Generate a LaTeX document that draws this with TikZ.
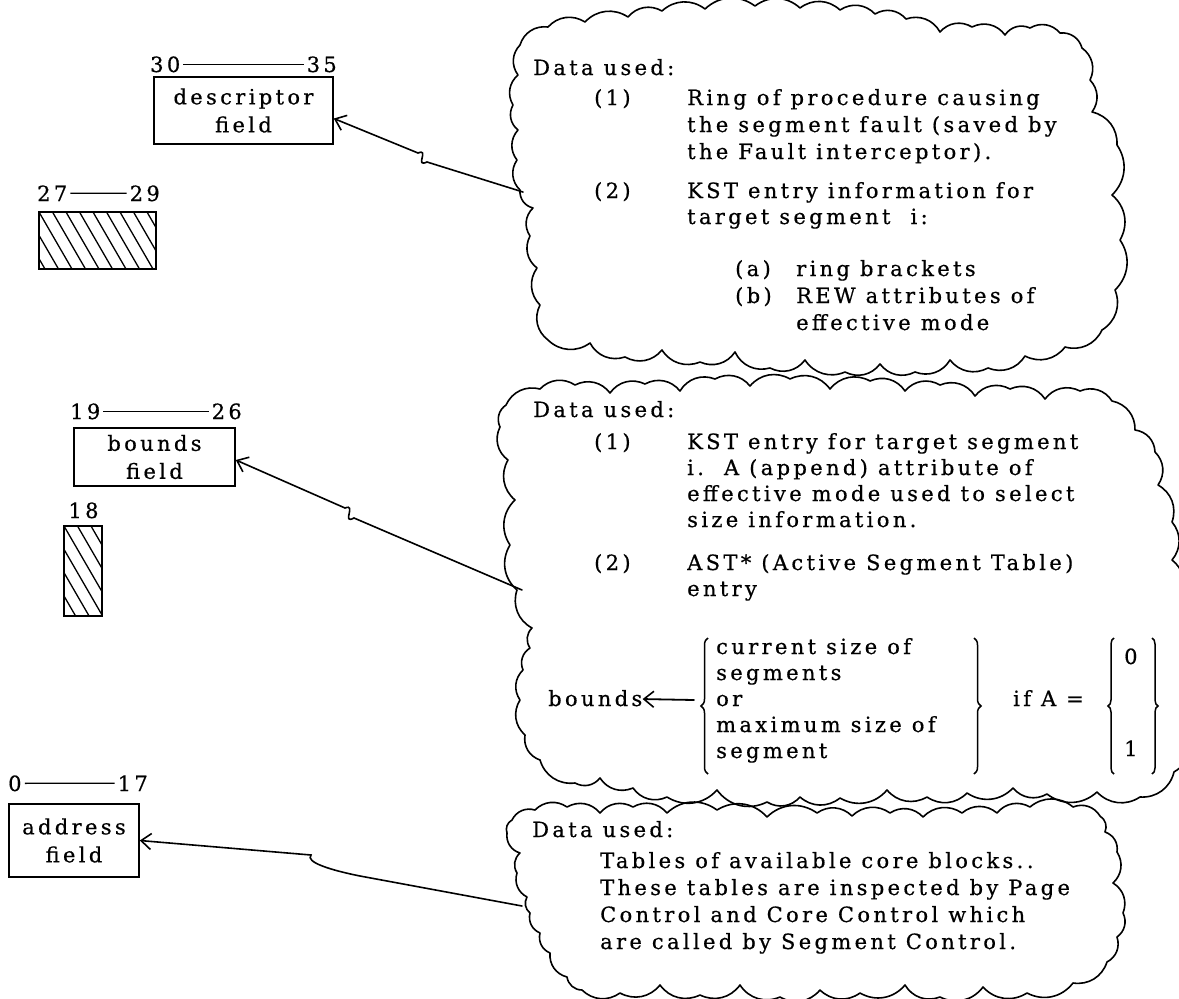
\documentclass[tikz,border=0pt]{standalone}
\usepackage{fontspec}
\setmainfont{DejaVu Serif}[LetterSpace=16, FakeBold=0.6]
\usetikzlibrary{arrows.meta}
\usetikzlibrary{calc}
\usetikzlibrary{decorations.pathreplacing}

\tikzset{
  txt/.style={anchor=base west, inner sep=0pt, font=\fontsize{21}{28}\selectfont},
  field/.style={draw, line width=1.6pt, align=center, inner sep=0pt, font=\fontsize{21}{28}\selectfont},
  bits/.style={inner sep=3pt, font=\fontsize{21}{22}\selectfont},
  hatch/.style={draw, line width=1.6pt, inner sep=0pt,
    path picture={
      \foreach \i in {-8,...,10}
        \draw[line width=1.3pt] ([xshift=\i*13.5pt]path picture bounding box.north west) -- ++(66,-114);
    }},
  cloudline/.style={line width=1.6pt, line join=round, every to/.style={bend left=40}},
  link/.style={line width=1.6pt, line cap=round, -{Straight Barb[length=10pt,width=16pt,line width=1.6pt]}},
  brc/.style={line width=1.5pt, decorate, decoration={brace, amplitude=7pt}},
}

\begin{document}
\begin{tikzpicture}[x=1pt, y=1pt]
\useasboundingbox (0,0) rectangle (1179,-999);

% fields of the word
\node[field, minimum width=179pt, minimum height=67pt] (desc) at (243.5,-110.5) {descriptor\\field};
\node[field, minimum width=161pt, minimum height=58pt] (bnds) at (154.5,-457) {bounds\\field};
\node[field, minimum width=130pt, minimum height=73pt] (addr) at (74,-840.5) {address\\field};
\node[hatch, minimum width=117pt, minimum height=57pt] (f27) at (97.5,-240.5) {};
\node[hatch, minimum width=38pt, minimum height=90pt] (f18) at (83,-571) {};

% bit positions
\node[bits, anchor=base west] (b30) at (147,-72) {30};
\node[bits, anchor=base east] (b35) at (340,-72) {35};
\node[bits, anchor=base west] (b27) at (34,-201) {27};
\node[bits, anchor=base east] (b29) at (163,-201) {29};
\node[bits, anchor=base west] (b19) at (67,-419) {19};
\node[bits, anchor=base east] (b26) at (245,-419) {26};
\node[bits, anchor=base] (b18) at (83.5,-518) {18};
\node[bits, anchor=base west] (b0) at (5,-791) {0};
\node[bits, anchor=base east] (b17) at (151,-791) {17};
\foreach \a/\b in {b30/b35, b27/b29, b19/b26, b0/b17}
  \draw[line width=1.3pt] (\a) -- (\b);

% cloud 1
\draw[cloudline] (520,-45) to (548,-27) to (585,-22) to (628,-17) to (662,-11) to (705,-9)
  to (755,-6) to (800,-8) to (840,-10) to (875,-14) to (906,-19) to (940,-32) to (972,-27)
  to (1005,-35) to (1030,-28) to (1060,-33)
  to (1082,-48) to (1090,-80) to (1092,-112) to (1117,-145) to (1112,-195) to (1120,-240)
  to (1115,-290) to (1102,-330)
  to (1065,-347) to (1025,-356) to (988,-368) to (950,-360) to (915,-372) to (880,-364)
  to (845,-372) to (805,-360) to (770,-368) to (735,-352) to (700,-362) to (662,-350)
  to (625,-357) to (590,-343) to (548,-340)
  to (540,-305) to (537,-268) to (530,-236) to (533,-208) to (520,-190) to (517,-160)
  to (518,-130) to (513,-105) to (518,-75) to (520,-45);
\node[txt] (du1) at (533,-75) {Data used:};
\node[txt] (n11) at (594,-105) {(1)};
\foreach \s/\y [count=\i] in {{Ring of procedure causing}/105, {the segment fault (saved by}/132,
    {the Fault interceptor).}/159}
  \node[txt] (p11-\i) at (687,-\y) {\s};
\node[txt] (n12) at (594,-198) {(2)};
\foreach \s/\y [count=\i] in {{KST entry information for}/198, {target segment\ \ i:}/224}
  \node[txt] (p12-\i) at (687,-\y) {\s};
\node[txt] (na) at (735,-276) {(a)};
\node[txt] (nb) at (735,-303) {(b)};
\foreach \s/\y [count=\i] in {{ring brackets}/276, {REW attributes of}/303, {effective mode}/330}
  \node[txt] (pab-\i) at (796,-\y) {\s};

% cloud 2
\draw[cloudline] (506,-405) to (540,-389) to (575,-385) to (610,-393) to (645,-384) to (680,-391)
  to (715,-379) to (750,-386) to (790,-379) to (830,-389) to (870,-381) to (905,-391)
  to (940,-385) to (975,-396) to (1010,-389) to (1045,-399) to (1080,-391) to (1112,-401)
  to (1135,-430) to (1155,-452) to (1158,-485) to (1172,-522) to (1172,-560) to (1180,-595)
  to (1192,-650) to (1192,-720) to (1174,-772)
  to (1140,-797) to (1097,-792) to (1047,-794) to (1013,-788) to (967,-793) to (927,-797)
  to (887,-790) to (840,-798) to (800,-797) to (767,-802) to (717,-790) to (667,-797)
  to (633,-788) to (600,-778) to (575,-783) to (540,-760)
  to (525,-735) to (520,-700) to (523,-670) to (530,-648) to (532,-628) to (517,-590)
  to (510,-545) to (515,-500) to (508,-460) to (500,-427) to (506,-405);
\node[txt] (du2) at (533,-417) {Data used:};
\node[txt] (n21) at (594,-449) {(1)};
\foreach \s/\y [count=\i] in {{KST entry for target segment}/449, {i.\ \ A (append) attribute of}/475,
    {effective mode used to select}/501, {size information.}/527}
  \node[txt] (p21-\i) at (687,-\y) {\s};
\node[txt] (n22) at (594,-570) {(2)};
\foreach \s/\y [count=\i] in {{AST* (Active Segment Table)}/570, {entry}/596}
  \node[txt] (p22-\i) at (687,-\y) {\s};
\node[txt] (bds) at (548,-706) {bounds};
\coordinate (brtip) at (694,-700);
\draw[link, line width=1.8pt] (brtip) -- (bds);
\draw[brc] (708,-774) -- (708,-638);
\foreach \s/\y [count=\i] in {{current size of}/654, {segments}/680, {or}/706,
    {maximum size of}/732, {segment}/758}
  \node[txt] (sz-\i) at (716,-\y) {\s};
\draw[brc] (974,-638) -- (974,-774);
\node[txt] (ifa) at (1013,-706) {if A =};
\draw[brc, decoration={amplitude=6pt}] (1114,-774) -- (1114,-638);
\node[txt] (v0) at (1124,-664) {0};
\node[txt] (v1) at (1124,-756) {1};
\draw[brc, decoration={amplitude=6pt}] (1152,-638) -- (1152,-774);

% cloud 3
\draw[cloudline] (512,-820) to (535,-810) to (567,-807) to (600,-813) to (633,-807) to (667,-813)
  to (717,-810) to (767,-817) to (817,-813) to (852,-816) to (890,-813) to (923,-817)
  to (962,-813) to (997,-813) to (1030,-807) to (1073,-807) to (1100,-816)
  to (1105,-832) to (1117,-852) to (1113,-883) to (1123,-913) to (1117,-937) to (1107,-962)
  to (1073,-983) to (1027,-993) to (983,-987) to (940,-997) to (905,-985) to (860,-993)
  to (820,-990) to (780,-997) to (740,-985) to (700,-995) to (660,-985) to (620,-993)
  to (582,-990)
  to (567,-977) to (550,-953) to (540,-933) to (530,-913) to (527,-897) to (517,-873)
  to (520,-853) to (507,-833) to (512,-820);
\node[txt] (du3) at (532,-837) {Data used:};
\foreach \s/\y [count=\i] in {{Tables of available core blocks.\,.}/868,
    {These tables are inspected by Page}/895, {Control and Core Control which}/922,
    {are called by Segment Control.}/949}
  \node[txt] (p3-\i) at (600,-\y) {\s};

% connectors from the clouds to the fields
\coordinate (c1in) at (523,-192);
\coordinate (c2in) at (522,-590);
\coordinate (c3in) at (522,-906);
\draw[link] (c1in) -- (427,-162) .. controls (414,-168) and (430,-148) .. (418,-153)
  -- ([yshift=-8pt]desc.east);
\draw[link] (c2in) -- (354,-518) .. controls (341,-525) and (357,-503) .. (345,-508)
  -- ([yshift=-3pt]bnds.east);
\draw[link] (c3in) -- (360,-876) .. controls (330,-870) and (305,-862) .. (311,-855)
  -- (addr.east);
\end{tikzpicture}
\end{document}
